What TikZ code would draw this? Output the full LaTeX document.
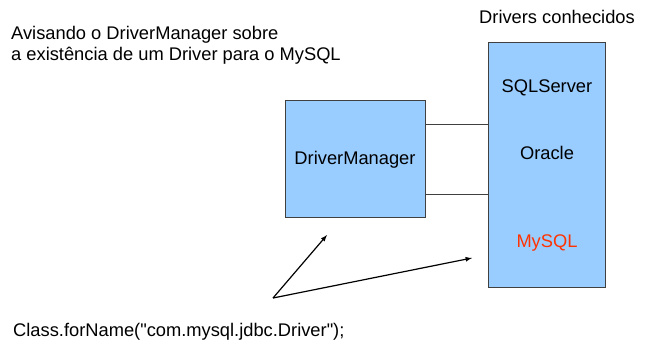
\documentclass[tikz,border=0pt]{standalone}
\usepackage{fontspec}
\setmainfont{Liberation Sans}
\usetikzlibrary{positioning}
\definecolor{boxblue}{RGB}{153,204,255}
\definecolor{boxline}{RGB}{64,64,64}
\definecolor{mysqlred}{RGB}{255,51,0}
\tikzset{
	blockbox/.style={draw=boxline, fill=boxblue, line width=1pt, inner sep=0pt},
	label text/.style={font=\fontsize{18.3}{21}\selectfont, inner sep=0pt}
}
\begin{document}
\begin{tikzpicture}[x=1pt,y=-1pt]
	%Picture frame in pixels of the reference
	\useasboundingbox (0,0) rectangle (650,343);
	
	%Box sizes
	\pgfmathsetmacro{\dmw}{140}
	\pgfmathsetmacro{\dmh}{117}
	\pgfmathsetmacro{\drw}{117}
	\pgfmathsetmacro{\drh}{245}
	
	%The DriverManager and the list of known drivers
	\node[blockbox, anchor=north west, minimum width=\dmw pt, minimum height=\dmh pt] (dm) at (285,100) {};
	\node[label text] (dmtext) at (355,160) {DriverManager};
	\node[blockbox, anchor=north west, minimum width=\drw pt, minimum height=\drh pt] (drv) at (488,42) {};
	
	%Driver names
	\node[label text] (sqlserver) at (547,88) {SQLServer};
	\node[label text] (oracle) at (547,153) {Oracle};
	\node[label text, text=mysqlred] (mysql) at (547,243) {MySQL};
	\node[label text] (drvtitle) at (557,17) {Drivers conhecidos};
	
	%Links between the boxes
	\draw[boxline, line width=0.8pt] ([yshift=35pt]dm.east) -- ([yshift=35pt]dm.east -| drv.west);
	\draw[boxline, line width=0.8pt] ([yshift=-35pt]dm.east) -- ([yshift=-35pt]dm.east -| drv.west);
	
	%Texts on the left
	\node[label text, anchor=west, align=left] (notice) at (11,45) {Avisando o DriverManager sobre\\a existência de um Driver para o MySQL};
	\node[label text, anchor=west] (call) at (13,332) {Class.forName(\textquotedbl com.mysql.jdbc.Driver\textquotedbl);};
	
	%Arrows from the call
	\coordinate (start) at (273,298);
	\coordinate (tipdm) at (327,235);
	\coordinate (tipdrv) at (472,258);
	\draw[-latex, line width=1.2pt] (start) -- (tipdm);
	\draw[-latex, line width=1.2pt] (start) -- (tipdrv);
\end{tikzpicture}
\end{document}
